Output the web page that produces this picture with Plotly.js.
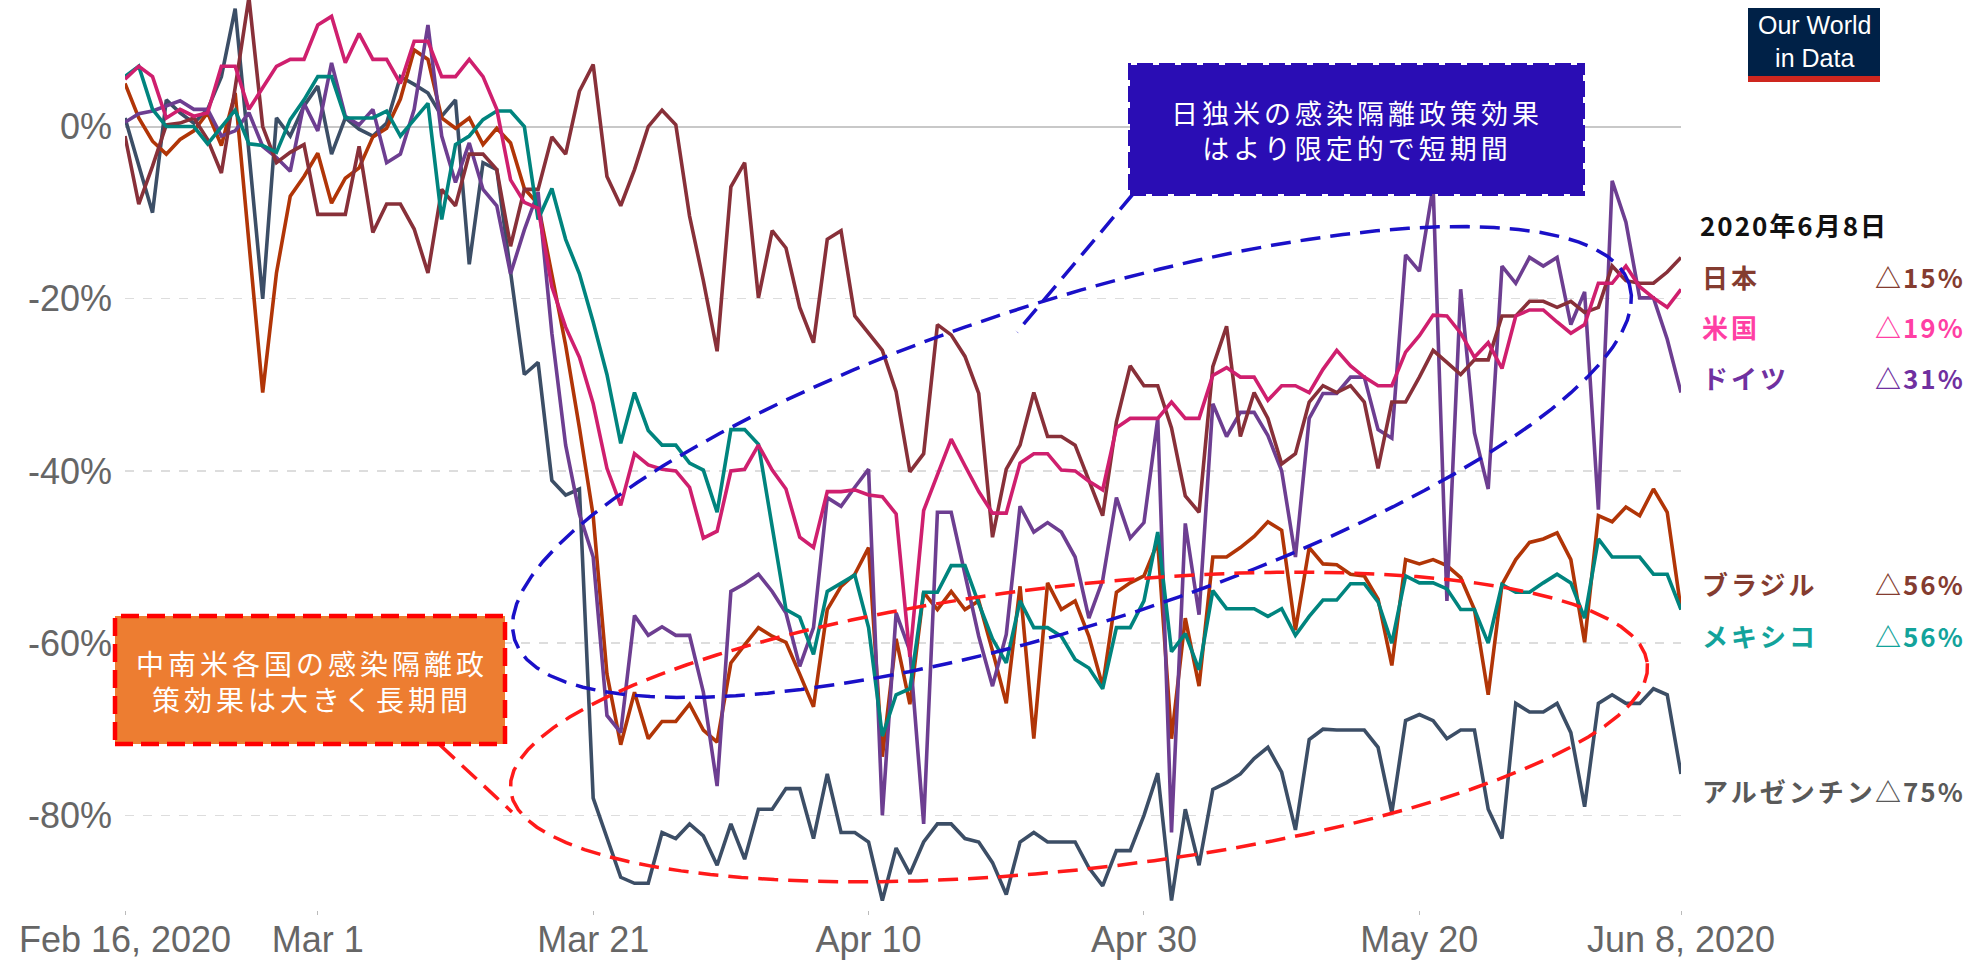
<!DOCTYPE html>
<html>
<head>
<meta charset="utf-8">
<script src="https://cdn.plot.ly/plotly-3.0.1.min.js"></script>
<style>
  body { margin: 0; background: #fff; }
  #plot { width: 1977px; height: 963px; }
</style>
</head>
<body>
<div id="plot"></div>
<script>
// daily values, Feb 16 2020 .. Jun 8 2020 (% change vs baseline)
const startDay = '2020-02-16';

const japan = [
  -1.1, -9.0, -4.6, 0.2, 0.4, 1.0, -1.5, -5.4, 4.5, 15.0,
  0, -4.2, -3.0, -2.1, -10.2, -10.2, -10.2, -2.3, -12.3, -9.0,
  -9.0, -11.9, -17.0, -7.3, -9.2, -3.2, -3.2, -5.0, -13.9, -7.3,
  -7.3, -1.2, -3.2, 4.1, 7.2, -5.8, -9.2, -5.0, 0, 1.9,
  0.2, -10.4, -17.9, -26.1, -7.0, -4.2, -19.9, -12.1, -14.1, -21.0,
  -25.1, -13.1, -12.1, -22.0, -24.0, -26.0, -30.8, -40.1, -38.0, -23.0,
  -24.2, -26.7, -31.0, -47.7, -39.8, -37.0, -30.9, -36.0, -36.0, -37.0,
  -41.1, -45.2, -34.3, -27.8, -30.1, -30.1, -35.0, -42.9, -44.8, -27.9,
  -23.2, -36.0, -30.9, -33.9, -39.2, -38.0, -32.0, -30.1, -30.9, -30.1,
  -32.0, -39.7, -32.0, -32.0, -29.1, -26.0, -27.4, -28.8, -27.1, -27.1,
  -22.0, -22.0, -20.3, -20.3, -21.0, -20.3, -21.6, -21.0, -16.2, -17.9,
  -18.2, -18.2, -16.9, -15.2
];

const usa = [
  5.5, 7.0, 5.8, 1.0, 2.0, 1.2, 1.6, 7.0, 7.0, 2.0,
  4.5, 7.0, 7.8, 7.8, 11.8, 12.8, 7.4, 10.8, 7.8, 7.8,
  5.0, 9.9, 9.9, 5.8, 5.8, 7.8, 5.8, 2.0, -6.2, -8.8,
  -9.5, -18.6, -23.3, -26.8, -32.2, -39.7, -44.0, -38.0, -39.3, -39.8,
  -40.0, -41.9, -47.8, -47.0, -40.0, -39.8, -37.0, -39.9, -42.1, -47.7,
  -48.9, -42.4, -42.4, -42.2, -42.8, -43.0, -45.0, -61.6, -44.6, -40.3,
  -36.3, -39.4, -42.4, -44.9, -44.9, -39.1, -38.0, -38.0, -39.9, -40.0,
  -41.2, -42.2, -35.0, -33.9, -33.9, -33.9, -32.0, -33.9, -33.9, -28.9,
  -28.0, -29.1, -29.1, -31.8, -30.1, -30.1, -30.9, -28.2, -26.0, -27.8,
  -29.1, -30.1, -30.1, -26.2, -24.3, -21.9, -22.0, -24.0, -26.8, -25.1,
  -28.1, -22.0, -21.3, -21.3, -22.7, -24.0, -23.0, -18.2, -18.2, -16.2,
  -18.6, -19.9, -21.0, -18.9
];

const germany = [
  0.5, 1.5, 1.8, 2.4, 3.0, 2.0, 2.0, -1.1, -0.5, 1.6,
  -2.3, -3.6, -5.2, 2.7, -0.5, 7.4, 1.2, 0.2, 2.0, -4.2,
  -3.2, 2.0, 11.8, -1.1, -6.5, -1.9, -7.3, -9.2, -17.1, -12.0,
  -7.6, -24.0, -37.0, -45.0, -50.0, -68.4, -70.4, -56.8, -59.1, -58.1,
  -59.1, -59.1, -65.7, -76.6, -54.0, -53.1, -52.0, -54.0, -56.5, -62.7,
  -58.2, -43.1, -44.1, -41.9, -39.8, -80.0, -56.5, -60.9, -81.0, -44.8,
  -44.8, -52.0, -59.2, -65.0, -59.0, -44.1, -47.1, -46.0, -47.1, -50.0,
  -57.1, -52.7, -43.1, -47.8, -46.0, -33.9, -82.0, -46.1, -56.7, -32.2,
  -36.0, -33.2, -33.2, -35.9, -40.0, -50.0, -33.9, -31.0, -31.0, -29.1,
  -29.1, -35.2, -36.2, -14.9, -16.8, -7.0, -55.1, -18.9, -35.6, -42.1,
  -16.2, -18.2, -15.2, -16.2, -15.2, -23.0, -19.2, -44.5, -6.3, -11.1,
  -19.9, -19.9, -24.7, -30.9
];

const brazil = [
  5.0, 1.0, -1.7, -3.2, -1.5, -0.5, 1.6, -2.2, 3.9, -13.0,
  -30.9, -17.0, -8.1, -5.8, -3.1, -8.9, -6.0, -4.8, -1.2, -0.2,
  3.2, 8.9, 7.8, 1.0, -0.2, 1.0, -2.1, -0.2, -1.9, -7.2,
  -9.0, -17.2, -25.4, -35.0, -45.2, -63.6, -71.8, -65.7, -71.1, -69.1,
  -69.1, -67.1, -70.1, -71.5, -62.3, -60.2, -58.2, -59.2, -59.9, -63.6,
  -67.4, -56.1, -53.4, -52.0, -48.9, -73.2, -59.5, -67.1, -54.1, -56.1,
  -54.0, -56.1, -55.1, -60.9, -67.0, -53.4, -71.1, -53.0, -56.1, -55.1,
  -59.2, -65.0, -54.1, -53.0, -52.2, -48.3, -71.1, -57.1, -65.0, -50.0,
  -50.0, -48.9, -47.6, -45.9, -46.9, -58.5, -48.9, -50.8, -50.9, -52.0,
  -52.2, -54.9, -62.6, -50.3, -50.8, -50.3, -51.0, -52.4, -56.1, -66.0,
  -53.2, -50.3, -48.3, -47.9, -47.2, -50.3, -59.9, -45.2, -45.9, -44.2,
  -45.2, -42.1, -44.8, -56.1
];

const mexico = [
  5.8, 7.0, 2.0, 0, 0, 0, -2.0, 0, 1.9, -2.0,
  -2.2, -3.0, 0.8, 3.1, 5.8, 5.8, 1.0, 1.0, 1.0, 1.8,
  -1.1, 0.8, 2.7, -10.8, -2.1, -1.1, 0.8, 1.8, 1.8, 0,
  -10.8, -7.2, -13.1, -17.1, -22.7, -28.8, -36.8, -30.9, -35.3, -37.0,
  -37.0, -39.1, -39.9, -44.8, -35.2, -35.2, -36.9, -46.5, -56.1, -57.0,
  -61.3, -54.0, -53.0, -52.1, -58.2, -70.8, -66.0, -65.3, -54.1, -54.1,
  -51.0, -51.0, -55.4, -59.5, -62.3, -55.1, -58.2, -58.2, -59.2, -61.9,
  -62.9, -65.3, -58.2, -58.2, -55.1, -47.1, -61.0, -58.9, -63.1, -53.9,
  -56.0, -56.0, -56.0, -56.9, -56.0, -59.1, -56.9, -55.0, -55.0, -53.1,
  -53.1, -55.2, -60.0, -52.2, -53.0, -53.0, -53.7, -56.1, -56.1, -60.0,
  -53.2, -54.1, -54.1, -53.0, -52.0, -53.0, -57.1, -47.9, -50.0, -50.0,
  -50.0, -52.0, -52.0, -56.1
];

const argentina = [
  1.0, -4.6, -10.0, 3.1, 1.6, 0.4, 2.0, 5.8, 13.7, -3.0,
  -20.0, 1.0, -1.1, 2.4, 4.7, -3.2, 1.0, -0.3, -1.1, 0.4,
  5.8, 4.9, 3.9, 1.2, 3.1, -16.0, -4.2, -5.0, -17.2, -28.8,
  -27.4, -41.1, -42.8, -42.1, -78.0, -82.7, -87.2, -87.9, -87.9, -82.0,
  -82.7, -81.0, -82.4, -85.8, -81.0, -85.1, -79.3, -79.3, -76.9, -76.9,
  -82.7, -75.2, -82.0, -82.0, -83.1, -89.9, -83.8, -86.8, -83.1, -81.0,
  -81.0, -82.7, -83.1, -85.5, -89.2, -83.1, -82.0, -83.1, -83.1, -83.1,
  -86.1, -88.2, -84.1, -84.1, -80.0, -75.1, -89.9, -79.3, -85.8, -77.0,
  -76.2, -75.2, -73.4, -72.1, -75.0, -81.7, -71.2, -70.0, -70.1, -70.1,
  -70.1, -72.1, -79.7, -69.0, -68.3, -69.0, -71.1, -70.1, -70.1, -79.3,
  -82.7, -67.0, -68.0, -68.0, -67.0, -70.4, -79.0, -67.0, -66.0, -67.0,
  -67.0, -65.3, -66.0, -75.2
];

const xTickVals = ['2020-02-16', '2020-03-01', '2020-03-21', '2020-04-10', '2020-04-30', '2020-05-20', '2020-06-08'];
const xTickText = ['Feb 16, 2020', 'Mar 1', 'Mar 21', 'Apr 10', 'Apr 30', 'May 20', 'Jun 8, 2020'];
const yTickVals = [0, -20, -40, -60, -80];
const yTickText = ['0%', '-20%', '-40%', '-60%', '-80%'];

const labelDate = '2020年6月8日';
const labelNames = ['日本', '米国', 'ドイツ', 'ブラジル', 'メキシコ', 'アルゼンチン'];

const blueNote = ['日独米の感染隔離政策効果', 'はより限定的で短期間'];
const orangeNote = ['中南米各国の感染隔離政', '策効果は大きく長期間'];

// build the date axis
const dates = japan.map((_, i) => {
    const d = new Date(startDay + 'T00:00:00Z');
    d.setUTCDate(d.getUTCDate() + i);
    return d.toISOString().slice(0, 10);
});

// plot area in page pixels, used to place the drawn notes
const plotL = 125, plotW = 1556, plotT = 0, plotH = 910;
function px(x) { return (x - plotL) / plotW; }
function py(y) { return (plotT + plotH - y) / plotH; }

function ellipsePath(cx, cy, a, b, tiltDeg) {
    const phi = tiltDeg * Math.PI / 180;
    let d = '';
    for (let k = 0; k <= 90; k++) {
        const t = k / 90 * 2 * Math.PI;
        const s = a * Math.cos(t), n = b * Math.sin(t);
        const x = cx + s * Math.cos(phi) + n * Math.sin(phi);
        const y = cy - s * Math.sin(phi) + n * Math.cos(phi);
        d += (k === 0 ? 'M' : 'L') + px(x).toFixed(4) + ',' + py(y).toFixed(4);
    }
    return d + 'Z';
}

function spaced(str, sp) {
    return '<span style="letter-spacing:' + sp + 'px">' + str + '</span>';
}

function drawChart() {
    const series = [
        { name: 'Argentina', y: argentina, color: '#3c4e66' },
        { name: 'Brazil', y: brazil, color: '#b13507' },
        { name: 'Germany', y: germany, color: '#6d3e91' },
        { name: 'Japan', y: japan, color: '#883039' },
        { name: 'Mexico', y: mexico, color: '#00847e' },
        { name: 'United States', y: usa, color: '#cf1f6e' }
    ];

    const data = series.map(s => ({
        x: dates, y: s.y, type: 'scatter', mode: 'lines', name: s.name,
        line: { color: s.color, width: 3.6 }, hoverinfo: 'skip'
    }));

    const blue = '#2a0db4';
    const shapes = [
        // blue ellipse + pointer
        { type: 'path', xref: 'paper', yref: 'paper', layer: 'above',
          path: ellipsePath(1072, 462, 585, 162, 17.7),
          line: { color: '#1a10c8', width: 3.5, dash: '20px,10px' } },
        { type: 'line', xref: 'paper', yref: 'paper', layer: 'above',
          x0: px(1133), y0: py(194), x1: px(1017), y1: py(332),
          line: { color: '#1a10c8', width: 3.5, dash: '20px,10px' } },
        // red ellipse + pointer
        { type: 'path', xref: 'paper', yref: 'paper', layer: 'above',
          path: ellipsePath(1079, 727, 572, 142, 6.4),
          line: { color: '#ff1a1a', width: 3.5, dash: '20px,10px' } },
        { type: 'line', xref: 'paper', yref: 'paper', layer: 'above',
          x0: px(440), y0: py(745), x1: px(512), y1: py(812),
          line: { color: '#ff1a1a', width: 3.5, dash: '20px,10px' } },
        // note boxes
        { type: 'rect', xref: 'paper', yref: 'paper', layer: 'above',
          x0: px(1130), y0: py(194), x1: px(1583), y1: py(65),
          fillcolor: blue, line: { color: blue, width: 4, dash: '16px,6px' } },
        { type: 'rect', xref: 'paper', yref: 'paper', layer: 'above',
          x0: px(115), y0: py(744), x1: px(505), y1: py(616),
          fillcolor: '#ed7d31', line: { color: '#ff0000', width: 4.5, dash: '18px,8px' } },
        // logo
        { type: 'rect', xref: 'paper', yref: 'paper', layer: 'above',
          x0: px(1748), y0: py(76), x1: px(1880), y1: py(8),
          fillcolor: '#002147', line: { width: 0 } },
        { type: 'rect', xref: 'paper', yref: 'paper', layer: 'above',
          x0: px(1748), y0: py(82), x1: px(1880), y1: py(76),
          fillcolor: '#ce261e', line: { width: 0 } }
    ];

    const jpFont = 'Noto Sans CJK JP';
    const annotations = [
        { xref: 'paper', yref: 'paper', x: px(1357), y: py(130), xanchor: 'center', yanchor: 'middle',
          text: blueNote.map(t => spaced(t, 4)).join('<br>'), showarrow: false,
          font: { family: jpFont, size: 27, color: '#ffffff' } },
        { xref: 'paper', yref: 'paper', x: px(312), y: py(681), xanchor: 'center', yanchor: 'middle',
          text: orangeNote.map(t => spaced(t, 4)).join('<br>'), showarrow: false,
          font: { family: jpFont, size: 28, color: '#ffffff' } },
        { xref: 'paper', yref: 'paper', x: px(1814), y: py(42), xanchor: 'center', yanchor: 'middle',
          text: 'Our World<br>in Data', showarrow: false,
          font: { family: 'Liberation Sans', size: 25, color: '#ffffff' } },
        { xref: 'paper', yref: 'paper', x: px(1698), y: py(224), xanchor: 'left', yanchor: 'middle',
          text: '<b>' + spaced(labelDate, 2) + '</b>', showarrow: false,
          font: { family: jpFont, size: 26, color: '#111111' } }
    ];

    // end labels on the right, value taken from the last day
    const labelSeries = [japan, usa, germany, brazil, mexico, argentina];
    const labelColors = ['#843c30', '#ff3fa4', '#7030a0', '#843c30', '#13a39b', '#595959'];
    const labelY = [276, 327, 378, 583, 635, 790];
    labelNames.forEach((name, i) => {
        const last = labelSeries[i][labelSeries[i].length - 1];
        annotations.push({
            xref: 'paper', yref: 'paper', x: px(1700), y: py(labelY[i]), xanchor: 'left', yanchor: 'middle',
            text: '<b>' + spaced(name, 3) + '</b>', showarrow: false,
            font: { family: jpFont, size: 26, color: labelColors[i] }
        });
        annotations.push({
            xref: 'paper', yref: 'paper', x: px(1967), y: py(labelY[i]), xanchor: 'right', yanchor: 'middle',
            text: '<b>' + spaced('△' + Math.round(-last) + '%', 2) + '</b>', showarrow: false,
            font: { family: jpFont, size: 26, color: labelColors[i] }
        });
    });

    const layout = {
        width: 1977, height: 963,
        margin: { l: 125, r: 296, t: 0, b: 53 },
        paper_bgcolor: '#ffffff',
        plot_bgcolor: '#ffffff',
        showlegend: false,
        hovermode: false,
        xaxis: {
            type: 'date',
            range: ['2020-02-16', '2020-06-08'],
            tickvals: xTickVals,
            ticktext: xTickText,
            ticks: 'outside', ticklen: 4, tickcolor: '#bbbbbb',
            ticklabelstandoff: -6,
            showgrid: false, zeroline: false, showline: false,
            tickfont: { family: 'Liberation Sans', size: 36, color: '#666666' }
        },
        yaxis: {
            range: [-91, 14.7],
            tickvals: yTickVals,
            ticktext: yTickText,
            showgrid: true, gridcolor: '#dddddd', griddash: 'dash', gridwidth: 1.5,
            zeroline: true, zerolinecolor: '#c8c8c8', zerolinewidth: 2,
            ticklabelstandoff: 12,
            tickfont: { family: 'Liberation Sans', size: 36, color: '#666666' }
        },
        shapes: shapes,
        annotations: annotations
    };

    Plotly.newPlot('plot', data, layout, { displayModeBar: false, staticPlot: true });
}

window.addEventListener('load', drawChart);
</script>
</body>
</html>
